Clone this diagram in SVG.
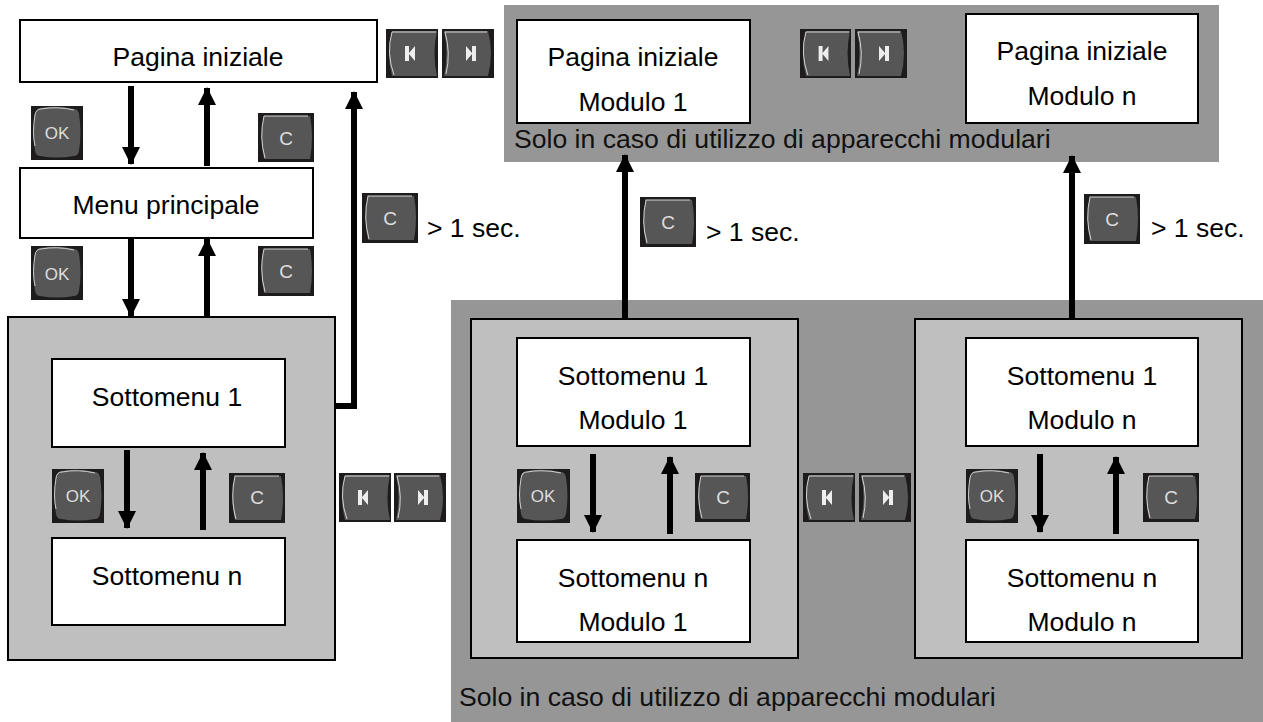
<svg xmlns="http://www.w3.org/2000/svg" xmlns:xlink="http://www.w3.org/1999/xlink" width="1263" height="722" viewBox="0 0 1263 722">
<style>
text{font-family:"Liberation Sans",Arial,sans-serif;fill:#000;font-size:26.5px}
text.s{font-size:26.6px;fill:#111}
.m{text-anchor:middle}
.b{fill:#fff;stroke:#000;stroke-width:2}
.p{fill:#bfbfbf;stroke:#000;stroke-width:2}
.l{fill:none;stroke:#000;stroke-width:6}
text.k{fill:#dedede;font-size:17px;text-anchor:middle}
text.q{fill:#dedede;font-size:19px;text-anchor:middle}
</style>
<defs>
<marker id="a" markerUnits="userSpaceOnUse" markerWidth="18" markerHeight="18" refX="17" refY="9" orient="auto"><path d="M0 0L18 9L0 18Z" fill="#000"/></marker>
<symbol id="ok" viewBox="0 0 52 54" preserveAspectRatio="none"><rect width="52" height="54" fill="#1d1b1b"/><path d="M9 2Q26 -1 43 3Q47 3 48 8Q51 27 48 45Q47 50 43 50Q26 53 9 50Q5 50 4 45Q1 27 4 8Q5 3 9 2Z" fill="#565656"/><path d="M4 40Q1 27 4 9Q5 3 10 3Q26 0 43 4" fill="none" stroke="#cfcfcf" stroke-width="1"/></symbol>
<symbol id="c" viewBox="0 0 56 49" preserveAspectRatio="none"><rect width="56" height="49" fill="#1d1b1b"/><path d="M6 3L52 3Q56 24 52 46L6 46Q1 24 6 3Z" fill="#565656"/><path d="M7 45Q1 24 6 3L50 3" fill="none" stroke="#d5d5d5" stroke-width="1"/></symbol>
<symbol id="prev" viewBox="0 0 52 49" preserveAspectRatio="none"><rect width="52" height="49" fill="#1d1b1b"/><path d="M6 2L51 2Q46 24 51 47L6 47Q0 24 6 2Z" fill="#565656"/><path d="M19 17H23V24L29 17V32L23 25V32H19Z" fill="#eee"/><path d="M8 46Q0 24 6 3L50 3" fill="none" stroke="#d5d5d5" stroke-width="1"/></symbol>
<symbol id="next" viewBox="0 0 52 49" preserveAspectRatio="none"><rect width="52" height="49" fill="#1d1b1b"/><path d="M2 2L46 2Q52 24 46 47L2 47Q7 24 2 2Z" fill="#565656"/><path d="M24 17L30 24V17H34V32H30V25L24 32Z" fill="#eee"/><path d="M3 3L45 3M3 3Q9 24 4 45" fill="none" stroke="#d5d5d5" stroke-width="1"/></symbol>
</defs>
<rect width="1263" height="722" fill="#fff"/>
<rect id="band-top" x="504" y="5" width="715" height="157" fill="#969696"/>
<rect id="band-bottom" x="451" y="300" width="812" height="422" fill="#969696"/>
<g id="panel-left"><rect class="p" x="8" y="317" width="327" height="343"/></g>
<g id="panel-mod1"><rect class="p" x="471" y="319" width="327" height="339"/></g>
<g id="panel-modn"><rect class="p" x="915" y="319" width="327" height="339"/></g>
<g id="node-home"><rect class="b" x="20" y="20" width="357" height="62"/><text class="m" x="198" y="66">Pagina iniziale</text></g>
<g id="node-menu"><rect class="b" x="20" y="168" width="293" height="70"/><text class="m" x="166" y="214">Menu principale</text></g>
<g id="node-sub1"><rect class="b" x="52" y="359" width="233" height="88"/><text class="m" x="167" y="406">Sottomenu 1</text></g>
<g id="node-subn"><rect class="b" x="52" y="538" width="233" height="87"/><text class="m" x="167" y="585">Sottomenu n</text></g>
<g id="node-home1"><rect class="b" x="517" y="20" width="233" height="103"/><text class="m" x="633" y="66">Pagina iniziale</text><text class="m" x="633" y="111">Modulo 1</text></g>
<g id="node-homen"><rect class="b" x="966" y="14" width="232" height="109"/><text class="m" x="1082" y="60">Pagina iniziale</text><text class="m" x="1082" y="105">Modulo n</text></g>
<g id="node-sub1-1"><rect class="b" x="517" y="338" width="233" height="108"/><text class="m" x="633" y="385">Sottomenu 1</text><text class="m" x="633" y="429">Modulo 1</text></g>
<g id="node-subn-1"><rect class="b" x="517" y="540" width="233" height="102"/><text class="m" x="633" y="587">Sottomenu n</text><text class="m" x="633" y="631">Modulo 1</text></g>
<g id="node-sub1-n"><rect class="b" x="966" y="338" width="232" height="108"/><text class="m" x="1082" y="385">Sottomenu 1</text><text class="m" x="1082" y="429">Modulo n</text></g>
<g id="node-subn-n"><rect class="b" x="966" y="540" width="232" height="102"/><text class="m" x="1082" y="587">Sottomenu n</text><text class="m" x="1082" y="631">Modulo n</text></g>
<g id="connectors">
<path class="l" marker-end="url(#a)" d="M131 86V164"/>
<path class="l" marker-end="url(#a)" d="M207 166V88"/>
<path class="l" marker-end="url(#a)" d="M131 238V316"/>
<path class="l" marker-end="url(#a)" d="M207 317V239"/>
<path class="l" marker-end="url(#a)" d="M335 406H354V92"/>
<path class="l" marker-end="url(#a)" d="M127 450V528"/>
<path class="l" marker-end="url(#a)" d="M203 530V453"/>
<path class="l" marker-end="url(#a)" d="M593 454V532"/>
<path class="l" marker-end="url(#a)" d="M670 534V457"/>
<path class="l" marker-end="url(#a)" d="M1040 454V532"/>
<path class="l" marker-end="url(#a)" d="M1116 534V457"/>
<path class="l" marker-end="url(#a)" d="M625 319V155"/>
<path class="l" marker-end="url(#a)" d="M1072 319V156"/>
</g>
<g id="btn-ok-1"><use xlink:href="#ok" href="#ok" x="31" y="106" width="52" height="54"/><text class="k" x="57" y="139">OK</text></g>
<g id="btn-c-1"><use href="#c" x="258" y="113" width="56" height="49"/><text class="q" x="286" y="145">C</text></g>
<g id="btn-ok-2"><use href="#ok" x="31" y="246" width="52" height="54"/><text class="k" x="57" y="280">OK</text></g>
<g id="btn-c-2"><use href="#c" x="258" y="246" width="56" height="50"/><text class="q" x="286" y="278">C</text></g>
<g id="btn-c-3"><use href="#c" x="362" y="193" width="56" height="50"/><text class="q" x="390" y="225">C</text></g>
<g id="btn-c-4"><use href="#c" x="640" y="197" width="56" height="50"/><text class="q" x="668" y="229">C</text></g>
<g id="btn-c-5"><use href="#c" x="1084" y="194" width="56" height="50"/><text class="q" x="1112" y="226">C</text></g>
<g id="btn-nav-1"><use href="#prev" x="386" y="29" width="52" height="49"/><use href="#next" x="442" y="29" width="52" height="49"/></g>
<g id="btn-nav-2"><use href="#prev" x="800" y="29" width="51" height="49"/><use href="#next" x="855" y="29" width="52" height="49"/></g>
<g id="btn-nav-3"><use href="#prev" x="339" y="473" width="52" height="49"/><use href="#next" x="394" y="473" width="52" height="49"/></g>
<g id="btn-nav-4"><use href="#prev" x="803" y="473" width="52" height="49"/><use href="#next" x="859" y="473" width="52" height="49"/></g>
<g id="btn-ok-3"><use href="#ok" x="52" y="469" width="52" height="54"/><text class="k" x="78" y="502">OK</text></g>
<g id="btn-c-6"><use href="#c" x="229" y="473" width="56" height="50"/><text class="q" x="257" y="504">C</text></g>
<g id="btn-ok-4"><use href="#ok" x="517" y="469" width="53" height="54"/><text class="k" x="543" y="502">OK</text></g>
<g id="btn-c-7"><use href="#c" x="695" y="473" width="55" height="49"/><text class="q" x="723" y="504">C</text></g>
<g id="btn-ok-5"><use href="#ok" x="966" y="469" width="52" height="54"/><text class="k" x="992" y="502">OK</text></g>
<g id="btn-c-8"><use href="#c" x="1143" y="473" width="56" height="49"/><text class="q" x="1171" y="504">C</text></g>
<text x="427" y="237">&gt; 1 sec.</text>
<text x="706" y="241">&gt; 1 sec.</text>
<text x="1151" y="237">&gt; 1 sec.</text>
<text class="s" x="514" y="148">Solo in caso di utilizzo di apparecchi modulari</text>
<text class="s" x="459" y="706">Solo in caso di utilizzo di apparecchi modulari</text>
</svg>
